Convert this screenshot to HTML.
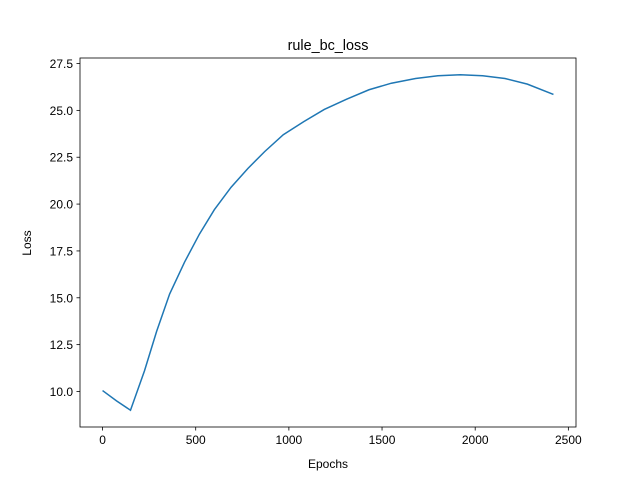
<!DOCTYPE html>
<html><head><meta charset="utf-8"><style>body{margin:0;background:#fff}svg{display:block;font-family:"Liberation Sans","DejaVu Sans",sans-serif}</style></head>
<body>
<svg id="chart" width="640" height="480">
<rect x="0" y="0" width="640" height="480" fill="#fff"/>
<text x="328" y="50" text-anchor="middle" font-size="14.4">rule_bc_loss</text>
<text x="328" y="468" text-anchor="middle" font-size="12">Epochs</text>
<text x="31" y="243" text-anchor="middle" font-size="12" transform="rotate(-90 31 243)">Loss</text>
<g id="ticks"></g>
<path id="line" fill="none" stroke="#1f77b4" stroke-width="1.5"/>
<rect x="80" y="58" width="496" height="369" fill="none" stroke="#000" stroke-width="0.8"/>
</svg>
<script>
const epochs=[0,75,150,225,290,360,440,520,600,690,780,870,970,1080,1190,1310,1430,1550,1680,1800,1920,2040,2160,2280,2420];
const loss=[10.05,9.5,9.0,11.1,13.2,15.2,16.9,18.4,19.7,20.9,21.9,22.8,23.7,24.4,25.05,25.6,26.1,26.45,26.7,26.85,26.9,26.85,26.7,26.4,25.85];
const xTicks=[0,500,1000,1500,2000,2500];
const yTicks=[10.0,12.5,15.0,17.5,20.0,22.5,25.0,27.5];
const L=80,R=576,T=58,B=427;
const xmin=Math.min(...epochs),xmax=Math.max(...epochs),ymin=Math.min(...loss),ymax=Math.max(...loss);
const xr=xmax-xmin,yr=ymax-ymin;
const x0=xmin-0.05*xr,x1=xmax+0.05*xr,y0=ymin-0.05*yr,y1=ymax+0.05*yr;
const sx=v=>L+(v-x0)/(x1-x0)*(R-L);
const sy=v=>B-(v-y0)/(y1-y0)*(B-T);
const NS="http://www.w3.org/2000/svg";
const g=document.getElementById('ticks');
function mk(tag,attrs,text){const e=document.createElementNS(NS,tag);for(const k in attrs)e.setAttribute(k,attrs[k]);if(text!==undefined)e.textContent=text;g.appendChild(e);return e;}
xTicks.forEach(t=>{const x=sx(t);
const l=mk('line',{x1:x,x2:x,y1:B,y2:B+3.5,stroke:'#000','stroke-width':0.8});


const tx=mk('text',{x:x,y:B+17,'text-anchor':'middle','font-size':12},String(t));

});
yTicks.forEach(t=>{const y=sy(t);
const l=mk('line',{x1:L-3.5,x2:L,y1:y,y2:y,stroke:'#000','stroke-width':0.8});


const tx=mk('text',{x:L-7,y:y+4.5,'text-anchor':'end','font-size':12},t.toFixed(1));

});
document.getElementById('line').setAttribute('d',epochs.map((e,i)=>(i?'L':'M')+sx(e).toFixed(2)+' '+sy(loss[i]).toFixed(2)).join(' '));
</script>
</body></html>
